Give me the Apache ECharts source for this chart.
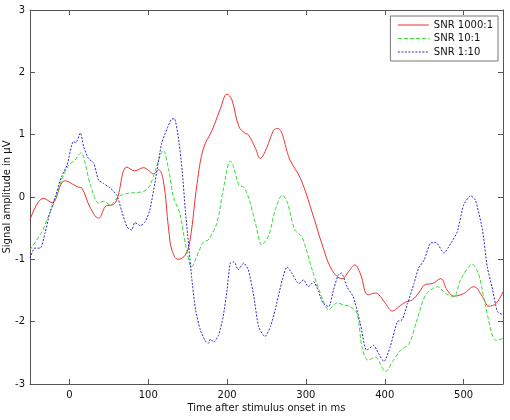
<!DOCTYPE html>
<html>
<head>
<meta charset="utf-8">
<script src="https://cdn.jsdelivr.net/npm/echarts@6/dist/echarts.min.js"></script>
<style>
  html, body { margin: 0; padding: 0; background: #fff; }
  #chart { width: 510px; height: 420px; }
</style>
</head>
<body>
<div id="chart"></div>
<script>
// SNR 1000:1 (red, solid)
const redT = [-50,-33,-22,-6,11,16,26,37,47,54,60,73,83,94,100,107,113,119,126,130,138,147,153,162,170,181,191,200,206,215,223,227,236,242,250,259,264,280,293,308,320,333,346,354,362,369,379,388,392,401,410,418,426,435,443,452,460,471,479,488,500,513,524,532,541,550];
const redV = [-0.37,-0.02,-0.09,0.26,0.16,0.14,-0.16,-0.34,-0.14,-0.13,-0.05,0.48,0.42,0.47,0.43,0.37,0.44,0.27,-0.53,-0.85,-1.0,-0.93,-0.69,0.22,0.78,1.07,1.40,1.65,1.56,1.13,1.02,1.0,0.78,0.62,0.78,1.07,1.10,0.59,0.30,-0.25,-0.74,-1.17,-1.31,-1.20,-1.09,-1.23,-1.57,-1.54,-1.56,-1.71,-1.83,-1.76,-1.69,-1.65,-1.54,-1.40,-1.39,-1.31,-1.49,-1.59,-1.55,-1.44,-1.60,-1.75,-1.71,-1.52];

// SNR 10:1 (green, dashed)
const greenT = [-50,-35,-27,-18,-10,-1,7,15,20,26,37,43,52,60,66,75,83,94,102,109,119,126,132,140,147,155,164,170,176,187,195,204,208,215,221,227,236,244,253,261,270,276,286,295,308,320,329,339,348,356,365,371,379,388,401,411,420,431,441,452,467,477,488,496,511,519,528,541,550];
const greenV = [-0.85,-0.56,-0.32,-0.05,0.27,0.51,0.59,0.71,0.54,0.22,-0.10,-0.07,-0.13,-0.02,0.03,0.06,0.07,0.09,0.18,0.43,0.75,0.43,0.0,-0.26,-0.74,-1.12,-0.88,-0.72,-0.69,-0.42,0.11,0.58,0.49,0.19,0.16,0.0,-0.42,-0.77,-0.61,-0.21,0.03,-0.07,-0.53,-0.64,-1.17,-1.60,-1.81,-1.70,-1.73,-1.76,-1.87,-2.40,-2.62,-2.57,-2.80,-2.62,-2.46,-2.35,-1.97,-1.57,-1.44,-1.55,-1.60,-1.33,-1.08,-1.23,-1.76,-2.30,-2.27];

// SNR 1:10 (blue, dotted)
const blueT = [-50,-44,-37,-31,-25,-18,-10,-3,5,8,14,18,24,31,37,43,52,60,66,73,79,83,90,96,102,109,117,124,129,133,138,143,147,151,155,160,166,172,176,179,183,189,195,200,204,209,214,221,227,234,240,248,255,261,270,276,282,291,297,303,310,316,322,329,335,341,345,352,360,369,377,386,392,399,407,416,422,429,437,443,450,458,465,475,484,492,500,509,515,524,530,536,543,550];
const blueV = [-0.98,-0.82,-0.82,-0.58,-0.26,0.0,0.33,0.51,0.89,0.87,1.03,0.81,0.62,0.54,0.27,0.22,0.14,0.03,-0.21,-0.48,-0.53,-0.41,-0.46,-0.40,-0.21,0.27,0.86,1.10,1.24,1.26,0.97,0.43,-0.21,-0.74,-1.28,-1.81,-2.13,-2.30,-2.35,-2.28,-2.33,-2.22,-1.92,-1.49,-1.06,-1.04,-1.17,-1.06,-1.17,-1.60,-2.08,-2.24,-2.08,-1.81,-1.33,-1.12,-1.22,-1.39,-1.33,-1.44,-1.36,-1.52,-1.71,-1.76,-1.49,-1.25,-1.22,-1.44,-1.60,-2.03,-2.46,-2.38,-2.51,-2.64,-2.40,-2.00,-1.97,-1.71,-1.39,-1.14,-1.01,-0.74,-0.73,-0.90,-0.74,-0.56,-0.13,0.02,-0.05,-0.53,-1.12,-1.44,-1.84,-1.89];

const names = ['SNR 1000:1', 'SNR 10:1', 'SNR 1:10'];
const colors = ['#f03030', '#30dd30', '#2828d0'];

const zip = (t, v) => t.map((x, i) => [x, v[i]]);

const font = 'DejaVu Sans';
const axisCol = '#555';
const txtCol = '#111';

const chart = echarts.init(document.getElementById('chart'));

// box frame: every axis draws its line at the grid edge, ticks pointing in
const frameAxis = (extra) => Object.assign({
    type: 'value',
    axisLine: { show: true, onZero: false, lineStyle: { color: axisCol, width: 1 } },
    axisTick: { show: true, inside: true, length: 5, lineStyle: { color: axisCol } },
    splitLine: { show: false },
    axisLabel: { show: false }
}, extra);

chart.setOption({
    animation: false,
    textStyle: { fontFamily: font },
    grid: { left: 30, top: 10, right: 7, bottom: 36, containLabel: false, outerBoundsMode: 'none' },
    legend: {
        orient: 'vertical',
        right: 12,
        top: 16,
        itemWidth: 31,
        itemHeight: 11,
        itemGap: 3.5,
        padding: [4, 5, 4, 7],
        backgroundColor: '#fff',
        borderColor: '#777',
        borderWidth: 1,
        borderRadius: 0,
        itemStyle: { opacity: 0 },
        lineStyle: { width: 1, color: 'inherit', type: 'inherit' },
        textStyle: { fontFamily: font, fontSize: 10, color: txtCol },
        data: names
    },
    xAxis: [
        frameAxis({
            min: -50, max: 550, splitNumber: 6,
            name: 'Time after stimulus onset in ms',
            nameLocation: 'middle', nameGap: 19, nameMoveOverlap: false,
            nameTextStyle: { fontFamily: font, fontSize: 10, color: txtCol },
            axisLabel: { show: true, showMinLabel: false, showMaxLabel: false, margin: 6, fontSize: 10, color: txtCol, fontFamily: font }
        }),
        frameAxis({ min: -50, max: 550, splitNumber: 6, position: 'top' })
    ],
    yAxis: [
        frameAxis({
            min: -3, max: 3, interval: 1,
            name: 'Signal amplitude in \u03bcV',
            nameLocation: 'middle', nameGap: 18, nameMoveOverlap: false,
            nameTextStyle: { fontFamily: font, fontSize: 10, color: txtCol },
            axisLabel: { show: true, margin: 5, fontSize: 10, color: txtCol, fontFamily: font }
        }),
        frameAxis({ min: -3, max: 3, interval: 1, position: 'right' })
    ],
    series: [
        {
            name: names[0], type: 'line', data: zip(redT, redV),
            symbol: 'none', smooth: 0.4,
            lineStyle: { color: colors[0], width: 1 }, itemStyle: { color: colors[0] }
        },
        {
            name: names[1], type: 'line', data: zip(greenT, greenV),
            symbol: 'none', smooth: 0.3,
            lineStyle: { color: colors[1], width: 1, type: [4, 2] }, itemStyle: { color: colors[1] }
        },
        {
            name: names[2], type: 'line', data: zip(blueT, blueV),
            symbol: 'none', smooth: 0.2,
            lineStyle: { color: colors[2], width: 1, type: [2, 1.5] }, itemStyle: { color: colors[2] }
        }
    ]
});
</script>
</body>
</html>
